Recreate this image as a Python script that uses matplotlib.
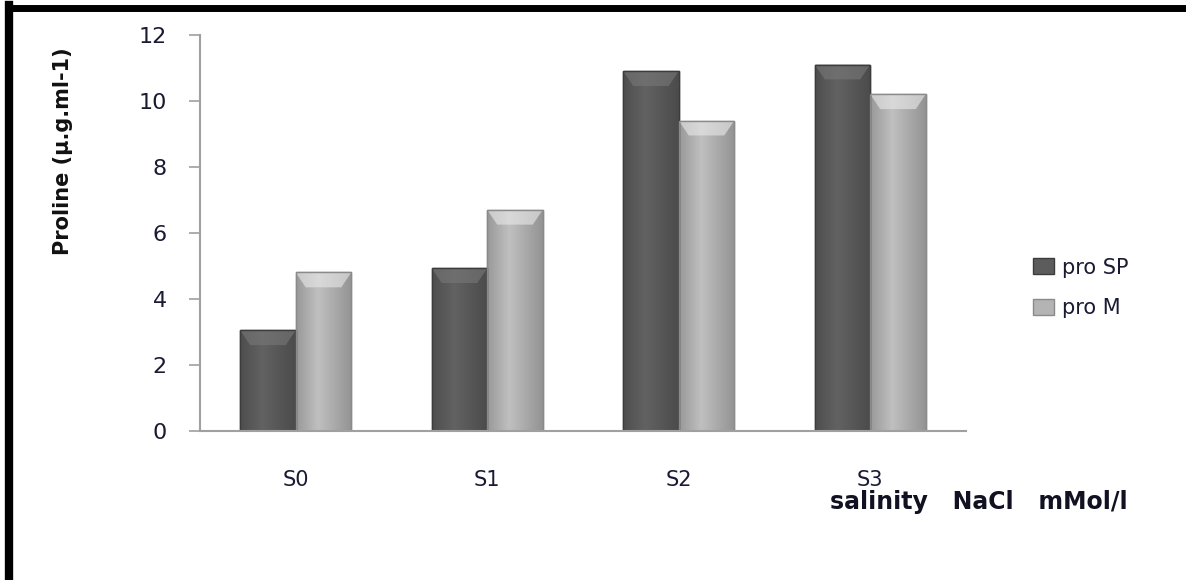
import numpy as np
import matplotlib
matplotlib.use("Agg")
import matplotlib.pyplot as plt
from matplotlib.patches import Rectangle
from matplotlib.lines import Line2D

categories = ["S0", "S1", "S2", "S3"]
pro_sp = [3.05, 4.93, 10.9, 11.1]
pro_m = [4.8, 6.7, 9.4, 10.2]
series_names = ["pro SP", "pro M"]
yticks = [0, 2, 4, 6, 8, 10, 12]

fig = plt.figure(figsize=(11.86, 5.8), dpi=100)
ax = fig.add_axes([0.1686, 0.257, 0.8145 - 0.1686, 0.683])

x = np.arange(len(categories))
w = 0.29
colors = ["#5c5c5c", "#b4b4b4"]
edges = ["#3c3c3c", "#8a8a8a"]
bars1 = ax.bar(x - w / 2, pro_sp, width=w, color=colors[0], edgecolor=edges[0], linewidth=1.0, zorder=2)
bars2 = ax.bar(x + w / 2, pro_m, width=w, color=colors[1], edgecolor=edges[1], linewidth=1.0, zorder=2)

# bevel shading derived from bar patches
def shade(bars, base):
    from matplotlib.colors import to_rgb
    r, g, b = to_rgb(base)
    for p in bars:
        x0, y0 = p.get_x(), p.get_y()
        bw, bh = p.get_width(), p.get_height()
        grad = np.concatenate([np.linspace(0.85, 1.06, 20), np.linspace(1.06, 0.82, 30)])
        img = np.zeros((1, len(grad), 3))
        img[0, :, 0] = np.clip(r * grad, 0, 1)
        img[0, :, 1] = np.clip(g * grad, 0, 1)
        img[0, :, 2] = np.clip(b * grad, 0, 1)
        im = ax.imshow(img, extent=[x0, x0 + bw, y0, y0 + bh], aspect="auto", zorder=2.1, interpolation="bilinear")
        im.set_clip_path(p)
        cap = 0.45
        top = y0 + bh
        poly = plt.Polygon([[x0, top], [x0 + bw, top], [x0 + bw * 0.82, top - cap], [x0 + bw * 0.18, top - cap]],
                           closed=True, facecolor=(min(r * 1.3, 1), min(g * 1.3, 1), min(b * 1.3, 1)),
                           edgecolor="none", zorder=2.2, alpha=0.6)
        ax.add_patch(poly)
        ax.add_patch(Rectangle((x0, y0), bw, bh, facecolor="none", edgecolor=p.get_edgecolor(), linewidth=1.0, zorder=2.3))

shade(bars1, colors[0])
shade(bars2, colors[1])

ax.set_xlim(-0.5, 3.5)
ax.set_ylim(0, 12)
ax.set_yticks(yticks)
ax.set_yticklabels([str(t) for t in yticks])
ax.set_xticks(x)
ax.set_xticklabels(categories)

for s in ["top", "right"]:
    ax.spines[s].set_visible(False)
for s in ["left", "bottom"]:
    ax.spines[s].set_color("#a0a0a0")
    ax.spines[s].set_linewidth(1.5)

tick_color = "#1a1a33"
ax.tick_params(axis="y", direction="out", length=8, width=1.2, color="#a0a0a0", labelsize=16, labelcolor=tick_color, pad=16)
ax.tick_params(axis="x", length=0, labelsize=15, labelcolor=tick_color, pad=28)

fig.text(0.053, 0.74, "Proline (µ.g.ml-1)", rotation=90, ha="center", va="center",
         fontsize=15, fontweight="bold", color="#111111")
fig.text(0.7, 1 - 502 / 580, "salinity   NaCl   mMol/l", ha="left", va="center",
         fontsize=17, fontweight="bold", color="#111122")

handles = [Rectangle((0, 0), 1, 1, facecolor=colors[0], edgecolor=edges[0]),
           Rectangle((0, 0), 1, 1, facecolor=colors[1], edgecolor=edges[1])]
fig.legend(handles, series_names, loc="center left", bbox_to_anchor=(0.855, 1 - 288 / 580),
           frameon=False, fontsize=15, handlelength=1.0, handleheight=0.8, handletextpad=0.4,
           labelspacing=1.0, labelcolor=tick_color)

# partial black border (left and top)
fig.add_artist(Line2D([0.0072, 0.0072], [0, 0.991], transform=fig.transFigure, color="black", linewidth=6))
fig.add_artist(Line2D([0.0072, 1.0], [0.9861, 0.9861], transform=fig.transFigure, color="black", linewidth=5))

fig.savefig("out.png", dpi=100)
